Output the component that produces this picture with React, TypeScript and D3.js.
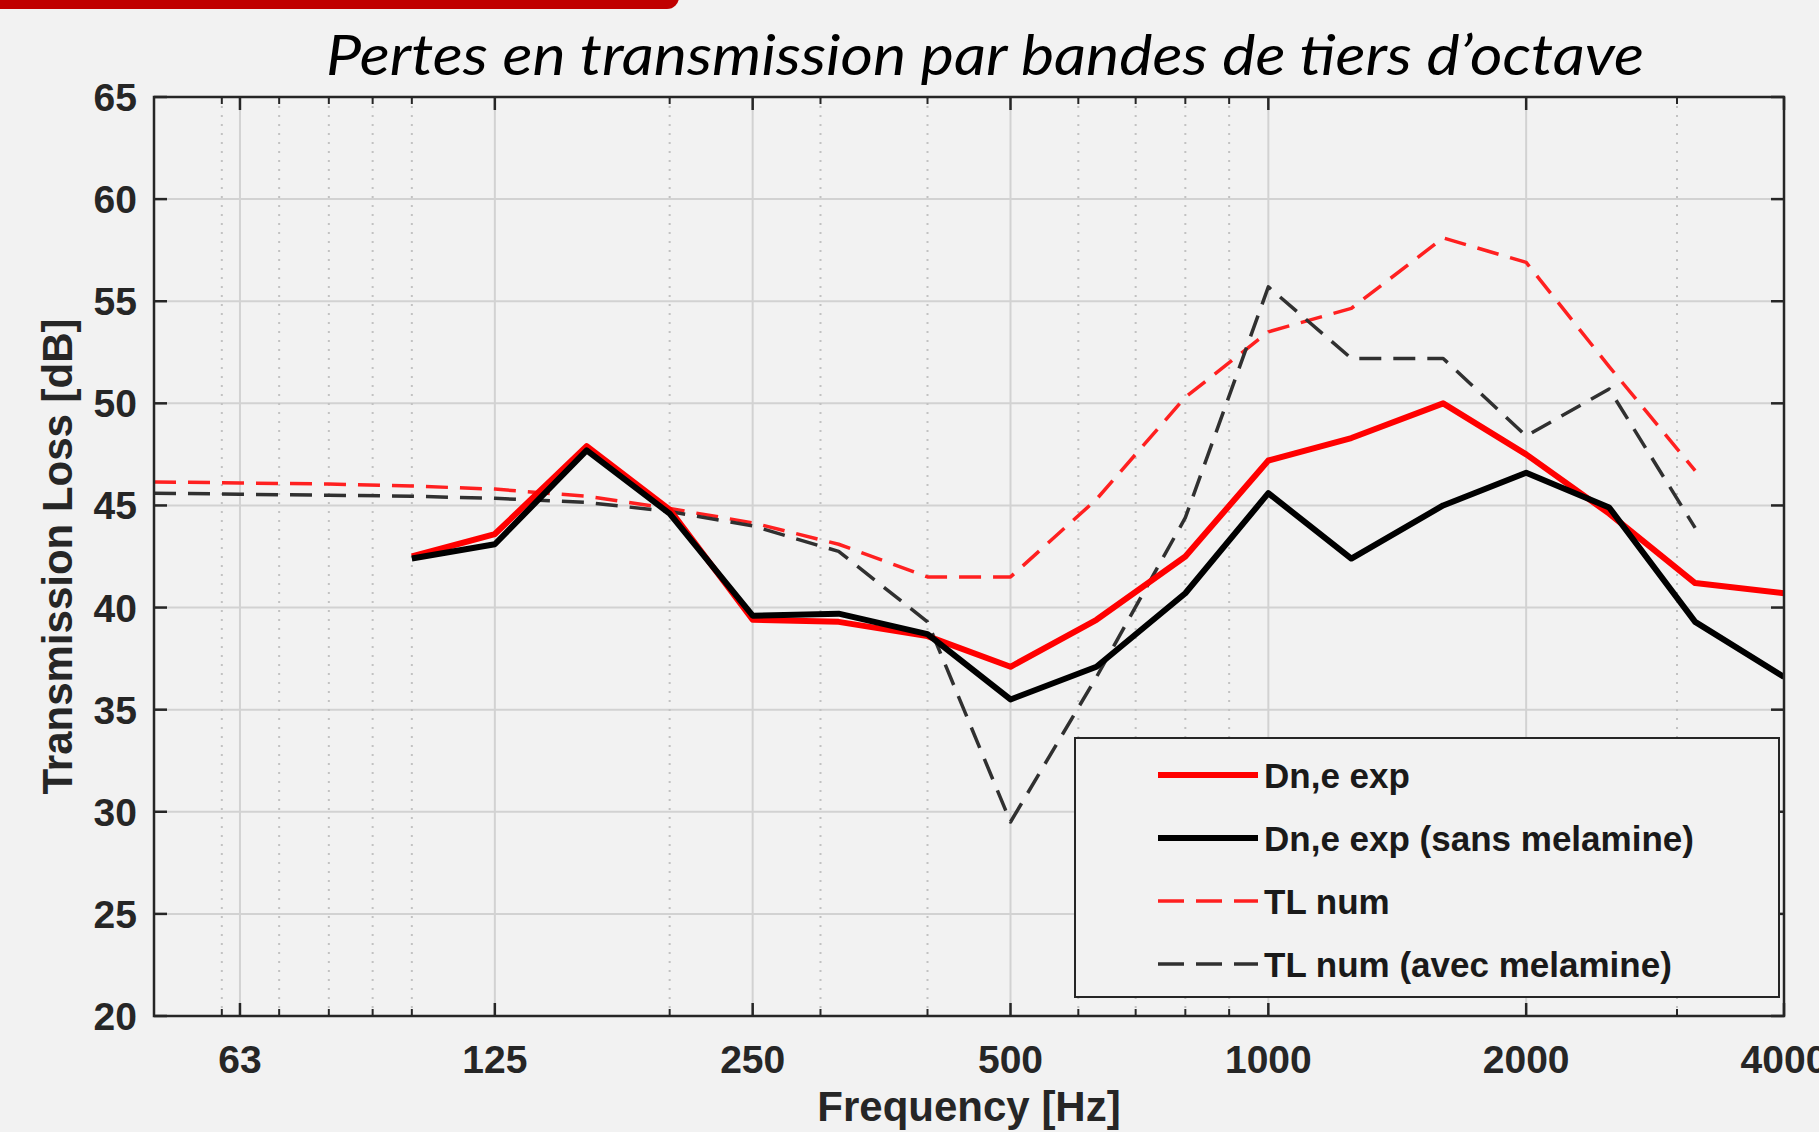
import { useEffect, useRef } from "react";
import * as d3 from "d3";

// third-octave bands, measured (Dn,e) from 100 Hz, computed (TL) from 50 Hz
const FREQ_EXP = [100, 125, 160, 200, 250, 315, 400, 500, 630, 800, 1000, 1250, 1600, 2000, 2500, 3150, 4000];
const DN_EXP = [42.5, 43.6, 47.9, 44.8, 39.4, 39.3, 38.6, 37.1, 39.4, 42.5, 47.2, 48.3, 50.0, 47.5, 44.6, 41.2, 40.7];
const DN_EXP_SANS = [42.4, 43.1, 47.7, 44.6, 39.6, 39.7, 38.7, 35.5, 37.1, 40.7, 45.6, 42.4, 45.0, 46.6, 44.9, 39.3, 36.6];

const FREQ_NUM = [50, 63, 80, 100, 125, 160, 200, 250, 315, 400, 500, 630, 800, 1000, 1250, 1600, 2000, 2500, 3150];
const TL_NUM = [46.15, 46.1, 46.05, 45.95, 45.8, 45.45, 44.85, 44.15, 43.1, 41.5, 41.5, 45.3, 50.3, 53.5, 54.65, 58.1, 56.9, 51.8, 46.7];
const TL_NUM_MEL = [45.6, 45.55, 45.5, 45.45, 45.35, 45.15, 44.7, 44.0, 42.75, 39.3, 29.5, 36.6, 44.4, 55.7, 52.2, 52.2, 48.4, 50.7, 43.9];

const X_TICKS = [63, 125, 250, 500, 1000, 2000, 4000];
const X_MINOR = [60, 70, 80, 90, 100, 200, 300, 400, 600, 700, 800, 900, 3000];
const Y_TICKS = [20, 25, 30, 35, 40, 45, 50, 55, 60, 65];

const LABELS = ["Dn,e exp", "Dn,e exp (sans melamine)", "TL num", "TL num (avec melamine)"];

const W = 1819;
const H = 1132;
const PLOT = { left: 154, right: 1784, top: 97, bottom: 1016 };
const BG = "#f2f2f2";
const AXIS = "#262626";
const FONT = "'Liberation Sans', Arial, Helvetica, sans-serif";

export default function App() {
  const svgRef = useRef<SVGSVGElement>(null);

  useEffect(() => {
    if (!svgRef.current) return;
    const svg = d3.select(svgRef.current);
    svg.selectAll("*").remove();

    const x = d3.scaleLog().domain([50, 4000]).range([PLOT.left, PLOT.right]);
    const y = d3.scaleLinear().domain([20, 65]).range([PLOT.bottom, PLOT.top]);

    svg.append("rect").attr("width", W).attr("height", H).attr("fill", BG);

    // red header bar
    svg.append("rect")
      .attr("x", -30).attr("y", -30)
      .attr("width", 709).attr("height", 39)
      .attr("rx", 12)
      .attr("fill", "#c00000");

    // title
    svg.append("text")
      .attr("x", 326).attr("y", 75)
      .attr("textLength", 1318).attr("lengthAdjust", "spacingAndGlyphs")
      .attr("fill", "#000")
      .style("font-family", "Lato, 'Open Sans', sans-serif")
      .style("font-style", "italic")
      .style("font-size", "56px")
      .text("Pertes en transmission par bandes de tiers d\u2019octave");

    // grid
    const grid = svg.append("g");
    Y_TICKS.forEach((v) => {
      grid.append("line")
        .attr("x1", PLOT.left).attr("x2", PLOT.right)
        .attr("y1", y(v)).attr("y2", y(v))
        .attr("stroke", "#d2d2d2").attr("stroke-width", 2);
    });
    X_TICKS.forEach((f) => {
      grid.append("line")
        .attr("x1", x(f)).attr("x2", x(f))
        .attr("y1", PLOT.top).attr("y2", PLOT.bottom)
        .attr("stroke", "#d2d2d2").attr("stroke-width", 2);
    });
    X_MINOR.forEach((f) => {
      grid.append("line")
        .attr("x1", x(f)).attr("x2", x(f))
        .attr("y1", PLOT.top).attr("y2", PLOT.bottom)
        .attr("stroke", "#c2c2c2").attr("stroke-width", 2)
        .attr("stroke-dasharray", "2,7");
    });

    // series
    const series = [
      { freq: FREQ_NUM, values: TL_NUM, color: "#ff2020", width: 3.5, dash: "22,12" },
      { freq: FREQ_NUM, values: TL_NUM_MEL, color: "#303030", width: 3.5, dash: "22,12" },
      { freq: FREQ_EXP, values: DN_EXP, color: "#ff0000", width: 6, dash: null },
      { freq: FREQ_EXP, values: DN_EXP_SANS, color: "#000000", width: 6, dash: null },
    ];

    const line = d3.line<[number, number]>()
      .x((d) => x(d[0]))
      .y((d) => y(d[1]));

    svg.append("clipPath").attr("id", "plot-clip")
      .append("rect")
      .attr("x", PLOT.left).attr("y", PLOT.top)
      .attr("width", PLOT.right - PLOT.left).attr("height", PLOT.bottom - PLOT.top);

    const lines = svg.append("g").attr("clip-path", "url(#plot-clip)");
    series.forEach((s) => {
      const pts = s.freq.map((f, i) => [f, s.values[i]] as [number, number]);
      lines.append("path")
        .datum(pts)
        .attr("fill", "none")
        .attr("stroke", s.color)
        .attr("stroke-width", s.width)
        .attr("stroke-linejoin", "round")
        .attr("stroke-dasharray", s.dash)
        .attr("d", line);
    });

    // axes box with inward ticks (MATLAB style)
    const ax = svg.append("g");
    ax.append("rect")
      .attr("x", PLOT.left).attr("y", PLOT.top)
      .attr("width", PLOT.right - PLOT.left).attr("height", PLOT.bottom - PLOT.top)
      .attr("fill", "none").attr("stroke", AXIS).attr("stroke-width", 2.5);

    X_TICKS.forEach((f) => {
      ax.append("line").attr("x1", x(f)).attr("x2", x(f))
        .attr("y1", PLOT.bottom).attr("y2", PLOT.bottom - 13)
        .attr("stroke", AXIS).attr("stroke-width", 2.5);
      ax.append("line").attr("x1", x(f)).attr("x2", x(f))
        .attr("y1", PLOT.top).attr("y2", PLOT.top + 13)
        .attr("stroke", AXIS).attr("stroke-width", 2.5);
    });
    X_MINOR.forEach((f) => {
      ax.append("line").attr("x1", x(f)).attr("x2", x(f))
        .attr("y1", PLOT.bottom).attr("y2", PLOT.bottom - 7)
        .attr("stroke", AXIS).attr("stroke-width", 2);
      ax.append("line").attr("x1", x(f)).attr("x2", x(f))
        .attr("y1", PLOT.top).attr("y2", PLOT.top + 7)
        .attr("stroke", AXIS).attr("stroke-width", 2);
    });
    Y_TICKS.forEach((v) => {
      ax.append("line").attr("x1", PLOT.left).attr("x2", PLOT.left + 13)
        .attr("y1", y(v)).attr("y2", y(v))
        .attr("stroke", AXIS).attr("stroke-width", 2.5);
      ax.append("line").attr("x1", PLOT.right).attr("x2", PLOT.right - 13)
        .attr("y1", y(v)).attr("y2", y(v))
        .attr("stroke", AXIS).attr("stroke-width", 2.5);
    });

    // tick labels
    ax.selectAll("text.xtick")
      .data(X_TICKS)
      .join("text")
      .attr("class", "xtick")
      .attr("x", (d) => x(d)).attr("y", 1073)
      .attr("text-anchor", "middle")
      .attr("fill", AXIS)
      .style("font-family", FONT).style("font-weight", "bold").style("font-size", "39px")
      .text((d) => `${d}`);

    ax.selectAll("text.ytick")
      .data(Y_TICKS)
      .join("text")
      .attr("class", "ytick")
      .attr("x", 137).attr("y", (d) => y(d) + 14)
      .attr("text-anchor", "end")
      .attr("fill", AXIS)
      .style("font-family", FONT).style("font-weight", "bold").style("font-size", "39px")
      .text((d) => `${d}`);

    // axis labels
    svg.append("text")
      .attr("x", (PLOT.left + PLOT.right) / 2).attr("y", 1121)
      .attr("text-anchor", "middle")
      .attr("fill", AXIS)
      .style("font-family", FONT).style("font-weight", "bold").style("font-size", "42px")
      .text("Frequency [Hz]");

    svg.append("text")
      .attr("transform", `translate(72,${(PLOT.top + PLOT.bottom) / 2}) rotate(-90)`)
      .attr("text-anchor", "middle")
      .attr("fill", AXIS)
      .style("font-family", FONT).style("font-weight", "bold").style("font-size", "42px")
      .text("Transmission Loss [dB]");

    // legend
    const lg = svg.append("g");
    lg.append("rect")
      .attr("x", 1075).attr("y", 738)
      .attr("width", 704).attr("height", 259)
      .attr("fill", BG).attr("stroke", AXIS).attr("stroke-width", 2);

    const legendOrder = [series[2], series[3], series[0], series[1]];
    legendOrder.forEach((s, i) => {
      const ly = 775 + i * 63;
      lg.append("line")
        .attr("x1", 1158).attr("x2", 1258)
        .attr("y1", ly).attr("y2", ly)
        .attr("stroke", s.color)
        .attr("stroke-width", s.width)
        .attr("stroke-dasharray", s.dash ? "26,12" : null);
      lg.append("text")
        .attr("x", 1264).attr("y", ly + 13)
        .attr("fill", "#1a1a1a")
        .style("font-family", FONT).style("font-weight", "bold").style("font-size", "35px")
        .text(LABELS[i]);
    });
  }, []);

  return (
    <div style={{ position: "absolute", left: 0, top: 0 }}>
      <svg ref={svgRef} width={W} height={H} style={{ display: "block" }} />
    </div>
  );
}
